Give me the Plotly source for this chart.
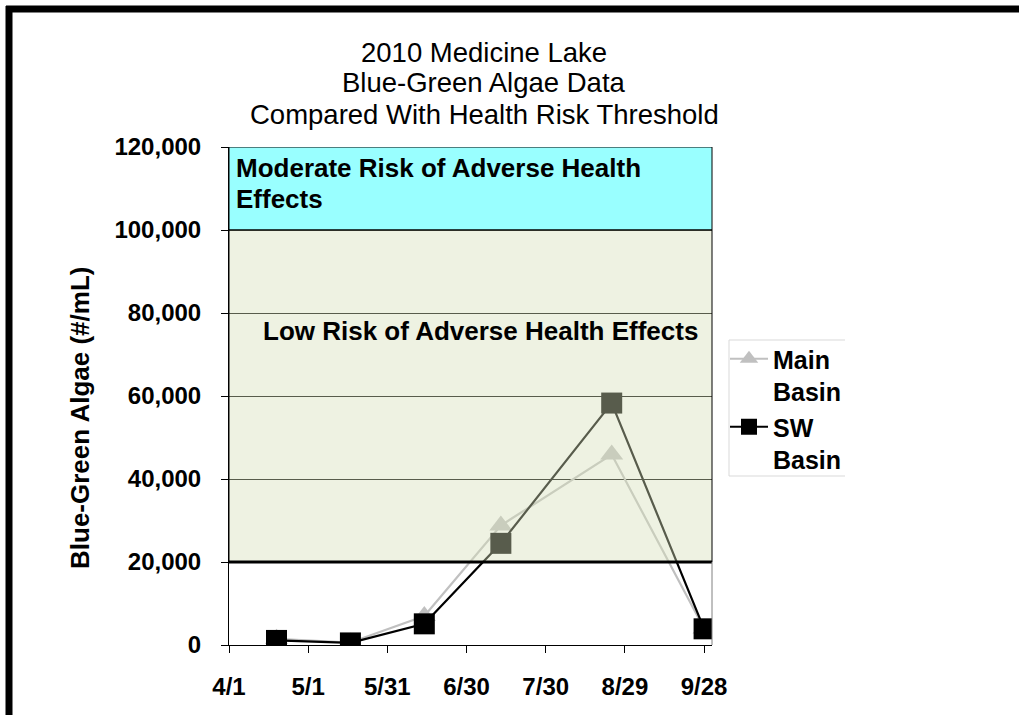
import plotly.graph_objects as go

# Sampling dates and blue-green algae counts (#/mL)
sample_dates = ["2010-04-19", "2010-05-17", "2010-06-14", "2010-07-13", "2010-08-24", "2010-09-28"]
main_basin = [1500, 600, 7000, 28800, 45900, 4000]
sw_basin = [1100, 500, 5100, 24500, 58300, 3900]

# Axis ticks
x_tick_dates = ["2010-04-01", "2010-05-01", "2010-05-31", "2010-06-30", "2010-07-30", "2010-08-29", "2010-09-28"]
x_tick_labels = ["4/1", "5/1", "5/31", "6/30", "7/30", "8/29", "9/28"]
y_tick_values = [0, 20000, 40000, 60000, 80000, 100000, 120000]

# Health risk bands
low_risk_band = (20000, 100000)
moderate_risk_band = (100000, 120000)

# Chart text
title_lines = ["2010 Medicine Lake", "Blue-Green Algae Data", "Compared With Health Risk Threshold"]
moderate_label_lines = ["Moderate Risk of Adverse Health", "Effects"]
low_label = "Low Risk of Adverse Health Effects"
y_title = "Blue-Green Algae (#/mL)"

W, H = 1019, 715
L, R, T, B = 229, 712, 147, 645  # plot area in pixels
FONT = "Liberation Sans"


def px_x(px):
    return (px - L) / (R - L)


def px_y(py):
    return (B - py) / (B - T)


def bold(size):
    return dict(family=FONT, size=size, color="#000000", weight="bold")


fig = go.Figure()

fig.add_trace(go.Scatter(
    x=sample_dates, y=main_basin, name="Main<br>Basin", mode="lines+markers",
    line=dict(color="#C0C0C0", width=2.2),
    marker=dict(symbol="triangle-up", size=20, color="#C0C0C0"),
))
fig.add_trace(go.Scatter(
    x=sample_dates, y=sw_basin, name="SW<br>Basin", mode="lines+markers",
    line=dict(color="#000000", width=2.2),
    marker=dict(symbol="square", size=21, color="#000000"),
))

shapes = [
    # moderate risk band
    dict(type="rect", xref="paper", yref="y", x0=0, x1=1,
         y0=moderate_risk_band[0], y1=moderate_risk_band[1],
         fillcolor="#99FFFF", line=dict(color="#000000", width=1), layer="above"),
    # low risk band (translucent, over the data)
    dict(type="rect", xref="paper", yref="y", x0=0, x1=1,
         y0=low_risk_band[0], y1=low_risk_band[1],
         fillcolor="rgba(214,224,185,0.41)", line=dict(color="#000000", width=1), layer="above"),
    # threshold line
    dict(type="line", xref="paper", yref="y", x0=0, x1=1,
         y0=low_risk_band[0], y1=low_risk_band[0],
         line=dict(color="#000000", width=3), layer="above"),
    # plot area right edge
    dict(type="line", xref="paper", yref="y", x0=1, x1=1, y0=0, y1=low_risk_band[0],
         line=dict(color="#808080", width=1), layer="above"),
    # outer frame
    dict(type="line", xref="paper", yref="paper", x0=px_x(6), x1=px_x(1030),
         y0=px_y(9), y1=px_y(9), line=dict(color="#000000", width=7)),
    dict(type="line", xref="paper", yref="paper", x0=px_x(9), x1=px_x(9),
         y0=px_y(6), y1=px_y(720), line=dict(color="#000000", width=7)),
    # legend box (top, left, bottom)
    dict(type="line", xref="paper", yref="paper", x0=px_x(729), x1=px_x(845),
         y0=px_y(340), y1=px_y(340), line=dict(color="#D9D9D9", width=1)),
    dict(type="line", xref="paper", yref="paper", x0=px_x(729), x1=px_x(729),
         y0=px_y(340), y1=px_y(476), line=dict(color="#D9D9D9", width=1)),
    dict(type="line", xref="paper", yref="paper", x0=px_x(729), x1=px_x(845),
         y0=px_y(476), y1=px_y(476), line=dict(color="#D9D9D9", width=1)),
]

annotations = []
for line_text, cy in zip(title_lines, [52, 83, 114]):
    annotations.append(dict(
        text=line_text, xref="paper", yref="paper", x=px_x(484), y=px_y(cy),
        xanchor="center", yanchor="middle", showarrow=False,
        font=dict(family=FONT, size=27.5, color="#000000", weight="normal")))
for line_text, cy in zip(moderate_label_lines, [168, 199]):
    annotations.append(dict(
        text=line_text, xref="paper", yref="paper", x=px_x(234), y=px_y(cy),
        xanchor="left", yanchor="middle", showarrow=False, font=bold(26)))
annotations += [
    dict(text=low_label, xref="paper", yref="paper",
         x=px_x(261), y=px_y(331), xanchor="left", yanchor="middle",
         showarrow=False, font=bold(26)),
    dict(text=y_title, xref="paper", yref="paper",
         x=px_x(80), y=px_y(418), xanchor="center", yanchor="middle", textangle=-90,
         showarrow=False, font=bold(26)),
]

fig.update_layout(
    width=W, height=H,
    margin=dict(l=L, r=W - R, t=T, b=H - B, pad=0),
    paper_bgcolor="#FFFFFF", plot_bgcolor="#FFFFFF",
    font=bold(24),
    showlegend=True,
    legend=dict(x=px_x(725), y=px_y(336), xanchor="left", yanchor="top",
                bgcolor="rgba(0,0,0,0)", borderwidth=0, valign="top",
                font=bold(25), itemwidth=38, tracegroupgap=6),
    shapes=shapes,
    annotations=annotations,
)

fig.update_xaxes(
    type="date", range=["2010-04-01", "2010-10-01"],
    tickvals=x_tick_dates, ticktext=x_tick_labels,
    showline=True, linecolor="#000000", linewidth=1,
    ticks="outside", ticklen=7, tickcolor="#000000", ticklabelstandoff=13,
    showgrid=False, zeroline=False,
    tickfont=bold(24),
)
fig.update_yaxes(
    range=[0, 120000], tickvals=y_tick_values, tickformat=",",
    showline=True, linecolor="#000000", linewidth=1,
    ticks="outside", ticklen=7, tickcolor="#000000", ticklabelstandoff=15,
    showgrid=True, gridcolor="#000000", gridwidth=1, zeroline=False,
    tickfont=bold(24),
)

fig.write_html("out.html")
